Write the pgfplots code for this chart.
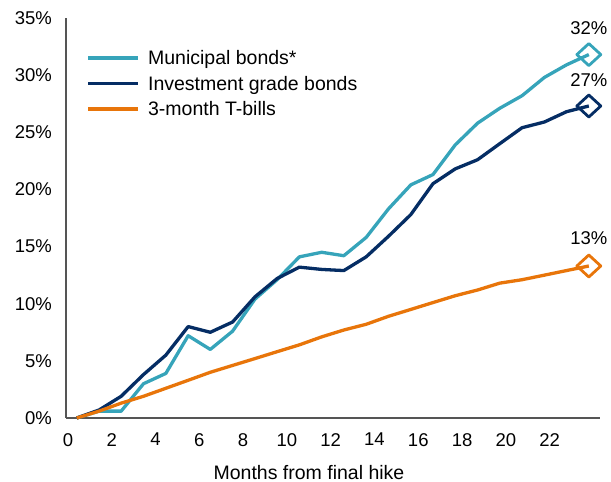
\documentclass[border=0pt]{standalone}
\usepackage{fontspec}
\setmainfont{Liberation Sans}
\usepackage{pgfplots}
\usepackage{pgfplotstable}
\pgfplotsset{compat=1.18}
\definecolor{muni}{RGB}{54,164,186}
\definecolor{igb}{RGB}{5,45,100}
\definecolor{tbill}{RGB}{232,117,10}
\definecolor{axisgray}{RGB}{85,85,85}
\pgfplotstableread{
x     muni  igb   tbill
0.40  0.0   0.0   0.0
1.42  0.6   0.7   0.6
2.43  0.6   1.9   1.3
3.45  3.0   3.8   1.9
4.47  3.9   5.5   2.6
5.49  7.2   8.0   3.3
6.50  6.0   7.5   4.0
7.52  7.6   8.4   4.6
8.54  10.4  10.6  5.2
9.55  12.1  12.2  5.8
10.57 14.1  13.2  6.4
11.59 14.5  13.0  7.1
12.60 14.2  12.9  7.7
13.62 15.8  14.1  8.2
14.64 18.3  15.9  8.9
15.66 20.4  17.8  9.5
16.67 21.3  20.5  10.1
17.69 23.9  21.8  10.7
18.71 25.8  22.6  11.2
19.72 27.1  24.0  11.8
20.74 28.2  25.4  12.1
21.76 29.8  25.9  12.5
22.77 30.9  26.8  12.9
23.79 31.8  27.3  13.3
}\datatable
\pgfplotstableread{
x     muni  igb   tbill
23.79 31.8  27.3  13.3
}\lasttable
\begin{document}
\begin{tikzpicture}
\begin{axis}[name=ax, scale only axis, width=534pt, height=400pt,
  xmin=-0.09, xmax=24.3, ymin=0, ymax=35,
  clip=false,
  axis x line*=bottom, axis y line*=left,
  axis line style={axisgray, line width=1.3pt},
  xtick={0,2,...,22}, ytick={0,5,...,35},
  major tick length=0pt,
  yticklabel={\pgfmathprintnumber{\tick}\%},
  /pgf/number format/assume math mode=true,
  tick label style={font=\fontsize{18.5}{21}\selectfont, text=black},
  xticklabel style={anchor=north, inner sep=0pt, yshift=-15pt},
  yticklabel style={anchor=east, inner sep=0pt, xshift=-14pt},
  xlabel={Months from final hike},
  xlabel style={at={(axis description cs:0.455,0)}, anchor=base, yshift=-61pt, font=\fontsize{19.5}{22}\selectfont},
  legend style={at={(axis description cs:0.039,0.925)}, anchor=north west, draw=none, fill=none,
    inner sep=0pt, outer sep=0pt, font=\fontsize{19.5}{22}\selectfont, row sep=5.5pt,
    nodes={inner sep=0pt, text height=17pt, text depth=3pt},
    /tikz/every odd column/.append style={column sep=8pt}},
  legend cell align=left,
  legend image code/.code={\draw[#1, line width=3.3pt] (0pt,0pt) -- (50pt,0pt);},
  every axis plot/.append style={line width=3.3pt, line join=round},
]
\addplot[muni, no marks] table[x=x, y=muni] {\datatable};
\addlegendentry{Municipal bonds*}
\addplot[igb, no marks] table[x=x, y=igb] {\datatable};
\addlegendentry{Investment grade bonds}
\addplot[tbill, no marks] table[x=x, y=tbill] {\datatable};
\addlegendentry{3-month T-bills}
\addplot[forget plot, only marks, mark=diamond, mark size=11pt, mark options={xscale=1.45, draw=muni, fill=white, line width=2.8pt}] table[x=x, y=muni] {\lasttable};
\addplot[forget plot, only marks, mark=diamond, mark size=11pt, mark options={xscale=1.45, draw=igb, fill=white, line width=2.8pt}] table[x=x, y=igb] {\lasttable};
\addplot[forget plot, only marks, mark=diamond, mark size=11pt, mark options={xscale=1.45, draw=tbill, fill=white, line width=2.8pt}] table[x=x, y=tbill] {\lasttable};
\node[anchor=base, font=\fontsize{18.5}{21}\selectfont, yshift=20pt] at (axis cs:23.79,31.8) {32\%};
\node[anchor=base, font=\fontsize{18.5}{21}\selectfont, yshift=19pt] at (axis cs:23.79,27.3) {27\%};
\node[anchor=base, font=\fontsize{18.5}{21}\selectfont, yshift=21pt] at (axis cs:23.79,13.3) {13\%};
\end{axis}
\pgfresetboundingbox
\path (ax.south west) ++(-66pt,-64pt) rectangle ++(611pt,482pt);
\end{tikzpicture}
\end{document}
